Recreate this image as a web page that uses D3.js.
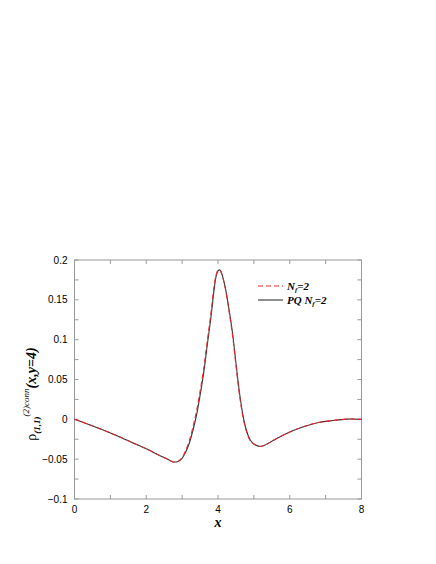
<!DOCTYPE html>
<html><head><meta charset="utf-8">
<script src="https://cdn.jsdelivr.net/npm/d3@7"></script>
<style>body{margin:0;background:#fff}</style>
</head><body>
<script>
const xs = [0,0.4,0.8,1.2,1.6,2.0,2.4,2.6,2.75,2.9,3.0,3.1,3.2,3.3,3.4,3.5,3.6,3.7,3.8,3.9,3.95,4.0,4.05,4.1,4.2,4.3,4.4,4.5,4.6,4.7,4.8,4.9,5.0,5.15,5.3,5.6,6.0,6.4,6.8,7.2,7.6,8.0];
const pqValues = [0,-0.0065,-0.0135,-0.021,-0.029,-0.037,-0.046,-0.050,-0.0535,-0.0525,-0.049,-0.041,-0.030,-0.014,0.005,0.030,0.058,0.093,0.127,0.166,0.180,0.1865,0.1875,0.1835,0.166,0.140,0.110,0.071,0.033,0.004,-0.015,-0.026,-0.031,-0.034,-0.0325,-0.025,-0.016,-0.009,-0.004,-0.0015,0.0003,0.0];
const nfValues = [0,-0.0065,-0.0135,-0.021,-0.029,-0.037,-0.046,-0.050,-0.0535,-0.0522,-0.048,-0.039,-0.027,-0.010,0.010,0.035,0.063,0.098,0.132,0.170,0.182,0.187,0.1875,0.183,0.165,0.138,0.107,0.068,0.030,0.002,-0.016,-0.027,-0.031,-0.034,-0.0325,-0.025,-0.016,-0.009,-0.004,-0.0015,0.0003,0.0];
const xTicks = [0,2,4,6,8];
const xMinor = [1,3,5,7];
const yTicks = [0.2,0.15,0.1,0.05,0,-0.05,-0.1];
const yTickLabels = ["0.2","0.15","0.1","0.05","0","\u22120.05","\u22120.1"];
const yMinor = [0.175,0.125,0.075,0.025,-0.025,-0.075];
const legendLabels = ["N_f=2","PQ N_f=2"];

const W=436,H=564;
const L=74.5,R=361.5,T=260,B=499;
const svg=d3.select("body").append("svg").attr("width",W).attr("height",H);
const x=d3.scaleLinear().domain([0,8]).range([L,R]);
const y=d3.scaleLinear().domain([-0.1,0.2]).range([B,T]);
const frame="#999";

svg.append("rect").attr("x",L).attr("y",T).attr("width",R-L).attr("height",B-T)
  .attr("fill","none").attr("stroke",frame).attr("stroke-width",1);

const tl=4;
const allX=xTicks.concat(xMinor), allY=yTicks.concat(yMinor);
const g=svg.append("g").attr("stroke",frame).attr("stroke-width",1);
allX.forEach(v=>{
  g.append("line").attr("x1",x(v)).attr("x2",x(v)).attr("y1",B).attr("y2",B-tl);
  g.append("line").attr("x1",x(v)).attr("x2",x(v)).attr("y1",T).attr("y2",T+tl);
});
allY.forEach(v=>{
  g.append("line").attr("y1",y(v)).attr("y2",y(v)).attr("x1",L).attr("x2",L+tl);
  g.append("line").attr("y1",y(v)).attr("y2",y(v)).attr("x1",R).attr("x2",R-tl);
});

const lf="'Liberation Sans', Arial, sans-serif";
svg.append("g").selectAll("text").data(xTicks).join("text")
  .attr("x",d=>x(d)).attr("y",B+14).attr("text-anchor","middle")
  .attr("font-family",lf).attr("font-size",10).text(d=>d);
svg.append("g").selectAll("text").data(yTicks).join("text")
  .attr("x",L-7).attr("y",d=>y(d)+3.5).attr("text-anchor","end")
  .attr("font-family",lf).attr("font-size",10).text((d,i)=>yTickLabels[i]);

const line=d3.line().x((d,i)=>x(xs[i])).y(d=>y(d)).curve(d3.curveCatmullRom);
svg.append("path").datum(pqValues).attr("d",line).attr("fill","none")
  .attr("stroke","#333").attr("stroke-width",1.1);
svg.append("path").datum(nfValues).attr("d",line).attr("fill","none")
  .attr("stroke","#e8292b").attr("stroke-width",1.1).attr("stroke-dasharray","5,3");

const sf="'Liberation Serif', 'Times New Roman', serif";
svg.append("text").attr("x",(L+R)/2).attr("y",B+28).attr("text-anchor","middle")
  .attr("font-family",sf).attr("font-size",14).attr("font-style","italic").attr("font-weight","bold").text("x");

const yl=svg.append("text").attr("transform","translate(36,394) rotate(-90)")
  .attr("text-anchor","middle").attr("font-family",sf).attr("font-size",14);
yl.append("tspan").text("\u03c1");
yl.append("tspan").attr("font-size",9).attr("font-style","italic").attr("font-weight","bold").attr("dy",4).text("(1,1)");
yl.append("tspan").attr("font-size",9).attr("font-style","italic").attr("dy",-11).text("(2)conn");
yl.append("tspan").attr("font-style","italic").attr("font-weight","bold").attr("dy",7).text("(x,y=4)");

const lg=svg.append("g");
const ly=[286,300];
lg.append("line").attr("x1",258).attr("x2",283).attr("y1",ly[0]).attr("y2",ly[0])
  .attr("stroke","#e8292b").attr("stroke-width",1.1).attr("stroke-dasharray","5,3");
lg.append("line").attr("x1",258).attr("x2",283).attr("y1",ly[1]).attr("y2",ly[1])
  .attr("stroke","#333").attr("stroke-width",1.1);
function legText(yy,prefix){
  const t=lg.append("text").attr("x",287).attr("y",yy+4).attr("font-family",sf)
    .attr("font-size",11).attr("font-style","italic").attr("font-weight","bold");
  t.append("tspan").text(prefix+"N");
  t.append("tspan").attr("font-size",7).attr("dy",2).text("f");
  t.append("tspan").attr("dy",-2).text("=2");
}
legText(ly[0],"");
legText(ly[1],"PQ ");
</script>
</body></html>
